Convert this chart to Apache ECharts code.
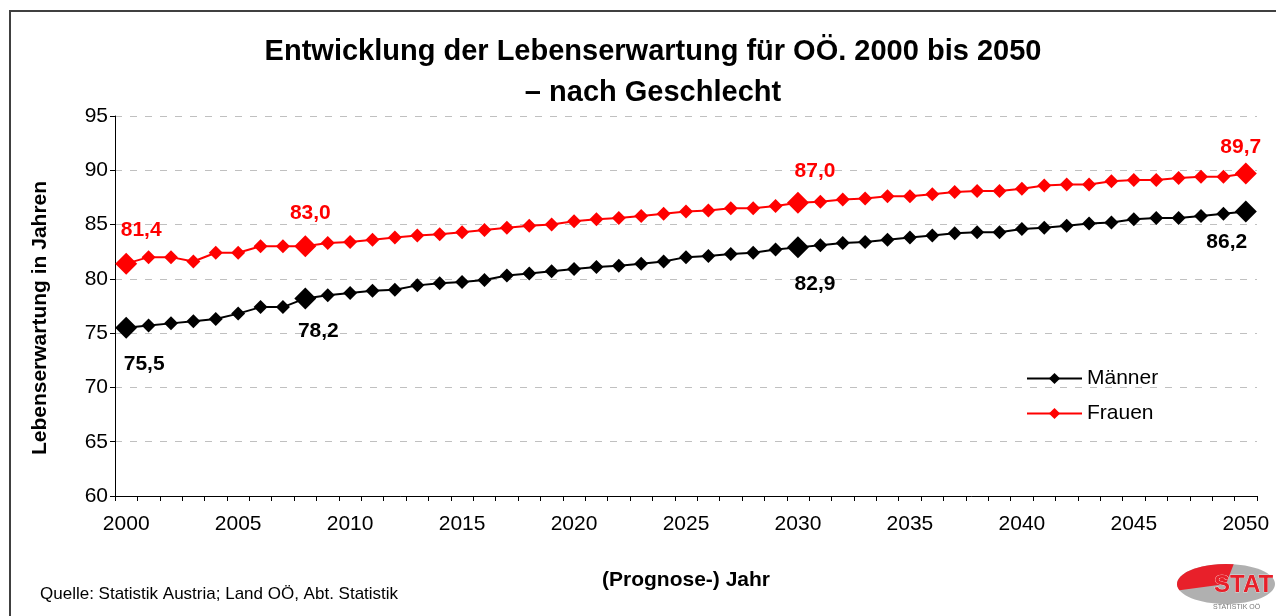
<!DOCTYPE html>
<html>
<head>
<meta charset="utf-8">
<script src="https://cdn.jsdelivr.net/npm/echarts@6/dist/echarts.min.js"></script>
<style>
  html, body { margin: 0; padding: 0; background: #fff; }
  #chart { width: 1276px; height: 616px; }
</style>
</head>
<body>
<div id="chart"></div>
<script>
const years = [
  '2000', '2001', '2002', '2003', '2004', '2005', '2006', '2007', '2008', '2009',
  '2010', '2011', '2012', '2013', '2014', '2015', '2016', '2017', '2018', '2019',
  '2020', '2021', '2022', '2023', '2024', '2025', '2026', '2027', '2028', '2029',
  '2030', '2031', '2032', '2033', '2034', '2035', '2036', '2037', '2038', '2039',
  '2040', '2041', '2042', '2043', '2044', '2045', '2046', '2047', '2048', '2049',
  '2050'
];
const maenner = [
  75.5, 75.7, 75.9, 76.1, 76.3, 76.8, 77.4, 77.4, 78.2, 78.5,
  78.7, 78.9, 79.0, 79.4, 79.6, 79.7, 79.9, 80.3, 80.5, 80.7,
  80.9, 81.1, 81.2, 81.4, 81.6, 82.0, 82.1, 82.3, 82.4, 82.7,
  82.9, 83.1, 83.3, 83.4, 83.6, 83.8, 84.0, 84.2, 84.3, 84.3,
  84.6, 84.7, 84.9, 85.1, 85.2, 85.5, 85.6, 85.6, 85.8, 86.0,
  86.2
];
const frauen = [
  81.4, 82.0, 82.0, 81.6, 82.4, 82.4, 83.0, 83.0, 83.0, 83.3,
  83.4, 83.6, 83.8, 84.0, 84.1, 84.3, 84.5, 84.7, 84.9, 85.0,
  85.3, 85.5, 85.6, 85.8, 86.0, 86.2, 86.3, 86.5, 86.5, 86.7,
  87.0, 87.1, 87.3, 87.4, 87.6, 87.6, 87.8, 88.0, 88.1, 88.1,
  88.3, 88.6, 88.7, 88.7, 89.0, 89.1, 89.1, 89.3, 89.4, 89.4,
  89.7
];
const yTicks = [60, 65, 70, 75, 80, 85, 90, 95];

// highlighted years (index -> label offset [dx, dy])
const maennerLabels = {0: [18, 36], 8: [13, 33], 30: [17, 37], 50: [-19, 31]};
const frauenLabels = {0: [15, -33], 8: [5, -33], 30: [17, -32], 50: [-5, -26]};

const font = "'Liberation Sans', Arial, sans-serif";

function buildData(values, labels, color) {
  return values.map((v, i) => {
    if (!labels[i]) return v;
    return {
      value: v,
      symbolSize: 22,
      label: {
        show: true,
        position: 'inside',
        offset: labels[i],
        color: color,
        fontFamily: font,
        fontWeight: 'bold',
        fontSize: 21,
        formatter: p => p.value.toFixed(1).replace('.', ',')
      }
    };
  });
}

const chart = echarts.init(document.getElementById('chart'));
chart.setOption({
  animation: false,
  textStyle: {fontFamily: font},
  title: {
    text: 'Entwicklung der Lebenserwartung für OÖ. 2000 bis 2050\n– nach Geschlecht',
    left: 648,
    top: 26,
    textAlign: 'center',
    textStyle: {
      fontFamily: font,
      fontWeight: 'bold',
      fontSize: 29,
      lineHeight: 41,
      color: '#000'
    }
  },
  legend: {
    orient: 'vertical',
    left: 1021,
    top: 363,
    itemWidth: 55,
    itemHeight: 14,
    itemGap: 14,
    textStyle: {fontFamily: font, fontSize: 21, color: '#000'},
    data: ['Männer', 'Frauen']
  },
  grid: {left: 115, right: 19, top: 116, bottom: 120},
  xAxis: {
    type: 'category',
    data: years,
    boundaryGap: true,
    name: '(Prognose-) Jahr',
    nameLocation: 'middle',
    nameGap: 74,
    nameTextStyle: {fontFamily: font, fontWeight: 'bold', fontSize: 21, color: '#000'},
    axisLine: {lineStyle: {color: '#000', width: 1}},
    axisTick: {show: true, interval: 0, length: 5, lineStyle: {color: '#000'}},
    axisLabel: {interval: 4, margin: 18, fontSize: 21, color: '#000', fontFamily: font},
    splitLine: {show: false}
  },
  yAxis: {
    type: 'value',
    min: yTicks[0],
    max: yTicks[yTicks.length - 1],
    interval: 5,
    name: 'Lebenserwartung in Jahren',
    nameLocation: 'middle',
    nameGap: 64,
    nameRotate: 90,
    nameTextStyle: {fontFamily: font, fontWeight: 'bold', fontSize: 21, color: '#000', padding: [0, 24, 0, 0]},
    axisLine: {show: true, lineStyle: {color: '#000', width: 1}},
    axisTick: {show: true, length: 5, lineStyle: {color: '#000'}},
    axisLabel: {margin: 7, fontSize: 21, color: '#000', fontFamily: font},
    splitLine: {show: true, lineStyle: {color: '#c0c0c0', type: [7, 8], width: 1}}
  },
  series: [
    {
      name: 'Männer',
      type: 'line',
      data: buildData(maenner, maennerLabels, '#000'),
      symbol: 'diamond',
      symbolSize: 14,
      showAllSymbol: true,
      itemStyle: {color: '#000'},
      lineStyle: {color: '#000', width: 2},
      z: 3
    },
    {
      name: 'Frauen',
      type: 'line',
      data: buildData(frauen, frauenLabels, '#ff0000'),
      symbol: 'diamond',
      symbolSize: 14,
      showAllSymbol: true,
      itemStyle: {color: '#ff0000'},
      lineStyle: {color: '#ff0000', width: 2},
      z: 3
    }
  ],
  graphic: [
    {
      type: 'rect',
      shape: {x: 10, y: 11, width: 1300, height: 700},
      style: {fill: null, stroke: '#404040', lineWidth: 2},
      silent: true
    },
    {
      type: 'text',
      left: 40,
      top: 586,
      style: {
        text: 'Quelle: Statistik Austria; Land OÖ, Abt. Statistik',
        font: '17px ' + font,
        fill: '#000'
      }
    },
    {
      type: 'group',
      silent: true,
      children: [
        {
          type: 'ellipse',
          shape: {cx: 1226, cy: 584, rx: 49, ry: 20},
          style: {fill: '#b0b0b0'}
        },
        {
          type: 'sector',
          shape: {cx: 1226, cy: 584, r: 49, r0: 0, startAngle: Math.PI * 0.9, endAngle: Math.PI * 1.55},
          scaleY: 20 / 49,
          originX: 1226,
          originY: 584,
          style: {fill: '#e8202a'}
        },
        {
          type: 'text',
          x: 1214,
          y: 573,
          style: {text: 'STAT', font: 'bold 24px ' + font, fill: '#e8202a', stroke: '#fff', lineWidth: 0.5}
        },
        {
          type: 'text',
          x: 1213,
          y: 604,
          style: {text: 'STATISTIK OÖ', font: '7px ' + font, fill: '#777'}
        }
      ]
    }
  ]
});
</script>
</body>
</html>
